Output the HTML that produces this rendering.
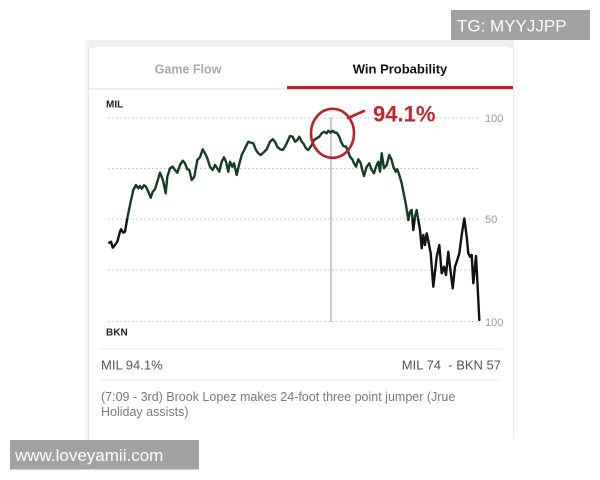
<!DOCTYPE html>
<html>
<head>
<meta charset="utf-8">
<style>
html,body{margin:0;padding:0;background:#fff;}
body{width:600px;height:480px;overflow:hidden;position:relative;font-family:"Liberation Sans",Arial,sans-serif;}
svg{position:absolute;left:0;top:0;}
</style>
</head>
<body>
<svg width="600" height="480" viewBox="0 0 600 480" xmlns="http://www.w3.org/2000/svg">
  <defs>
    <clipPath id="above"><rect x="0" y="0" width="600" height="219"/></clipPath>
    <clipPath id="below"><rect x="0" y="219" width="600" height="261"/></clipPath>
  </defs>
  <!-- card frame -->
  <rect x="85" y="40" width="429" height="8" fill="#eeeeee"/>
  <rect x="85" y="40" width="4" height="400" fill="#f3f3f3"/>
  <path d="M89,56 Q89,47 98,47 L505,47 Q513,47 513,56 L513,440 L89,440 Z" fill="#ffffff"/>
  <line x1="513.5" y1="48" x2="513.5" y2="439" stroke="#ececec" stroke-width="1"/>
  <line x1="88.5" y1="48" x2="88.5" y2="440" stroke="#e6e6e6" stroke-width="1"/>

  <!-- tabs -->
  <text x="188" y="73.5" font-size="12.5" font-weight="bold" fill="#a9a9a9" text-anchor="middle">Game Flow</text>
  <text x="400" y="73.5" font-size="13" font-weight="bold" fill="#111" text-anchor="middle">Win Probability</text>
  <line x1="89" y1="89" x2="287" y2="89" stroke="#e4e4e4" stroke-width="1.2"/>
  <rect x="287" y="86" width="226" height="3.2" fill="#c41e2a"/>

  <!-- team labels -->
  <text x="106" y="107.5" font-size="10" font-weight="bold" fill="#222">MIL</text>
  <text x="106" y="335.5" font-size="10" font-weight="bold" fill="#222">BKN</text>

  <!-- grid -->
  <g stroke="#cfcfcf" stroke-width="1" stroke-dasharray="2,2">
    <line x1="108" y1="118" x2="479" y2="118"/>
    <line x1="108" y1="168.5" x2="479" y2="168.5"/>
    <line x1="108" y1="219" x2="479" y2="219"/>
    <line x1="108" y1="270" x2="479" y2="270"/>
    <line x1="108" y1="321.5" x2="479" y2="321.5"/>
  </g>
  <g font-size="11" fill="#9a9a9a">
    <text x="485" y="122">100</text>
    <text x="485" y="223">50</text>
    <text x="485" y="326">100</text>
  </g>

  <!-- vertical marker -->
  <line x1="331" y1="117" x2="331" y2="322" stroke="#bdbdbd" stroke-width="1.6"/>

  <!-- win probability line -->
  <g fill="none" stroke-width="2.4" stroke-linejoin="round" stroke-linecap="round">
    <polyline id="wp" clip-path="url(#above)" stroke="#163d24" points="109.3,242.7 111,241.7 112.7,247.7 115,245 117.3,241.7 120,231.7 121,229.3 123.3,232.7 125,231.7 127.3,218.3 130,205 133.3,190 136,185 138.3,188.3 140,186 141.7,188.7 144,185.3 146,186.7 148.3,191.7 150.7,197.7 152.7,191.7 155,189.3 157.3,181.7 160,172.7 162.3,178.3 163.3,181.7 165.7,193.3 167.3,176.7 170,168.3 172.7,166.7 175,170 177.3,172.7 180,165 182.7,160.7 185,163.3 187.3,169.3 189.3,170 191.7,180 194.3,176.7 197.3,160 200,157.3 202.7,149.3 205,153.3 207.3,158.3 210,166.7 212.7,170 215,165 217.3,168.3 219.3,171.7 221.7,161.7 224,157.3 226,161.7 228.3,171.7 230,161.7 232.3,166.7 234,163.3 236.7,175 239,165 241.7,155 245,148.3 248.3,141.7 250.7,142.7 253.3,143.3 256,150 258.3,153.3 260.7,155 263.3,152.7 266.7,149.3 270,141.7 272.7,139.3 275,141.7 277.3,146.7 280,149.3 282.7,150 285,146.7 286.7,143.3 290,136 292.7,136.7 295,141.7 297.3,140 299.3,136.7 301.7,141.7 303.3,143.3 306,148.3 308.3,150 311.7,145 314,140 316.7,138.3 319.3,136.7 321.7,133.3 324,131.7 326.7,133.3 328.3,130.7 330.7,132.7 332.7,130.7 335,132.7 336.7,132.7 339.3,136.7 341,141.7 343.3,146 346,146.7 348.3,151.7 350,156.7 352.3,159.3 354,163.3 356,166.7 358.3,159.3 360.7,163.3 362.7,171.7 364,176 366.7,166.7 369.3,163.3 371.7,170 374,173.3 376,166.7 378.3,161.7 380,171.7 381.7,153.3 384,168.3 386.7,165 389.3,155 391.7,160 393.3,166.7 395.7,171.7 397.3,169.3 399.3,175 401.7,183.3 404,195 406,205 408.3,220 410,211.7 411.7,210 413.3,230 415,216.7 416.7,210 418.3,220 420,230 421.7,248.3 423.3,235 425,245 426.7,233.3 428.3,240.7 430.7,253.3 433.3,286.7 436.7,256.7 439.3,245 441.7,273.3 444,266.7 446,275 448.3,251.7 450,266.7 452.7,288.3 455,266.7 457.3,260 459.3,253.3 461.7,235 464.3,218.3 466.7,236.7 468.3,253.3 470,256.7 471.7,255 473.3,283.3 476,256 477.3,280 479.3,320"/>
  </g>
  <polyline clip-path="url(#below)" fill="none" stroke="#111" stroke-width="2.4" stroke-linejoin="round" stroke-linecap="round" points="109.3,242.7 111,241.7 112.7,247.7 115,245 117.3,241.7 120,231.7 121,229.3 123.3,232.7 125,231.7 127.3,218.3 130,205"/>
  <polyline clip-path="url(#below)" fill="none" stroke="#111" stroke-width="2.4" stroke-linejoin="round" stroke-linecap="round" points="404,195 406,205 408.3,220 410,211.7 411.7,210 413.3,230 415,216.7 416.7,210 418.3,220 420,230 421.7,248.3 423.3,235 425,245 426.7,233.3 428.3,240.7 430.7,253.3 433.3,286.7 436.7,256.7 439.3,245 441.7,273.3 444,266.7 446,275 448.3,251.7 450,266.7 452.7,288.3 455,266.7 457.3,260 459.3,253.3 461.7,235 464.3,218.3 466.7,236.7 468.3,253.3 470,256.7 471.7,255 473.3,283.3 476,256 477.3,280 479.3,320"/>

  <!-- annotation -->
  <ellipse cx="332.5" cy="133.3" rx="21.5" ry="24.5" fill="none" stroke="#b8232c" stroke-width="2.6"/>
  <line x1="348" y1="118" x2="364" y2="111" stroke="#b8232c" stroke-width="2.6" stroke-linecap="round"/>
  <text x="373" y="121.5" font-size="22" font-weight="bold" fill="#c0242d">94.1%</text>

  <!-- info rows -->
  <line x1="101" y1="349" x2="502" y2="349" stroke="#eaeaea" stroke-width="1"/>
  <text x="101" y="369.5" font-size="13" fill="#555">MIL 94.1%</text>
  <text x="501" y="369.5" font-size="13" fill="#555" text-anchor="end">MIL 74&#160; - BKN 57</text>
  <line x1="101" y1="380" x2="502" y2="380" stroke="#eaeaea" stroke-width="1"/>
  <text x="101" y="401" font-size="12.5" fill="#7a7a7a">(7:09 - 3rd) Brook Lopez makes 24-foot three point jumper (Jrue</text>
  <text x="101" y="416" font-size="12.5" fill="#7a7a7a">Holiday assists)</text>

  <!-- watermarks -->
  <rect x="451" y="10" width="139" height="30" fill="#a2a2a2"/>
  <text x="457" y="31.5" font-size="17" fill="#ffffff">TG: MYYJJPP</text>
  <rect x="10" y="440" width="189" height="29.5" fill="#a2a2a2"/>
  <text x="15" y="461" font-size="17" fill="#ffffff">www.loveyamii.com</text>
</svg>
</body>
</html>
